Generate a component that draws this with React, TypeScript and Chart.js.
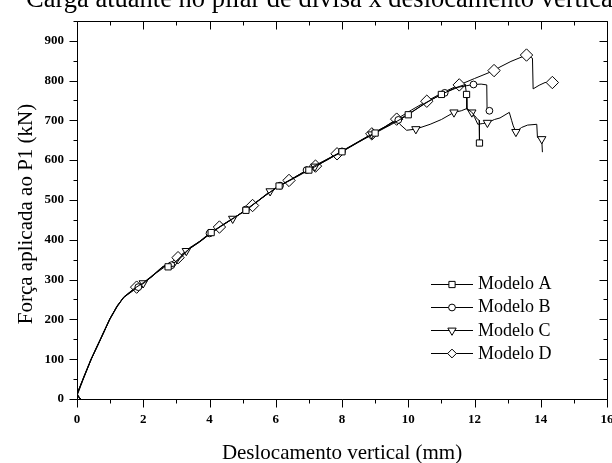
import React, { useEffect, useRef } from 'react';
import { Chart, registerables } from 'chart.js';

Chart.register(...registerables);

// ---------------- data ----------------
const chartTitle = 'Carga atuante no pilar de divisa x deslocamento vertical';
const xTitle = 'Deslocamento vertical (mm)';
const yTitle = 'Força aplicada ao P1 (kN)';
const seriesNames = ['Modelo A', 'Modelo B', 'Modelo C', 'Modelo D'];

const xMin = 0;
const xMax = 16;
const xStep = 1;
const xLabelEvery = 2;
const yMin = 0;
const yMax = 950;
const yStep = 50;
const yLabelEvery = 100;

// Modelo A (squares)
const modeloA: [number, number][] = [
  [0.12, 0], [0, 10], [0.2, 55], [0.42, 100], [0.7, 150], [0.98, 200], [1.2, 232], [1.4, 255],
  [1.7, 276], [2.0, 292], [2.3, 312], [2.55, 330], [2.7, 338], [2.75, 332], [2.95, 334], [3.1, 352],
  [3.4, 378], [3.7, 395], [4.05, 418], [4.4, 438], [4.75, 456], [5.1, 474], [5.5, 500], [5.85, 521],
  [6.1, 535], [6.5, 552], [7.0, 575], [7.5, 598], [8.0, 621], [8.5, 645], [9.0, 668], [9.5, 690],
  [10.0, 714], [10.5, 743], [11.0, 765], [11.4, 781], [11.72, 790], [11.76, 765], [11.77, 728],
  [11.9, 722], [12.0, 712], [12.1, 702], [12.14, 700], [12.15, 643],
];
const marcasA = [13, 18, 21, 24, 26, 28, 30, 32, 34, 37, 43];

// Modelo B (circles)
const modeloB: [number, number][] = [
  [0.1, 0], [0, 12], [0.22, 58], [0.43, 100], [0.72, 152], [1.0, 202], [1.22, 235], [1.42, 256],
  [1.85, 281], [2.1, 296], [2.4, 318], [2.6, 332], [2.85, 336], [3.05, 350], [3.35, 375], [3.7, 396],
  [4.0, 416], [4.4, 437], [4.75, 455], [5.1, 476], [5.5, 500], [5.8, 518], [6.13, 536], [6.5, 553],
  [6.93, 575], [7.4, 596], [8.0, 622], [8.5, 646], [9.0, 669], [9.7, 701], [10.2, 726], [10.7, 752],
  [11.1, 769], [11.5, 783], [11.97, 790], [12.2, 791], [12.37, 789], [12.38, 725], [12.45, 724],
  [12.55, 728],
];
const marcasB = [8, 12, 16, 19, 22, 24, 26, 29, 32, 34, 38];

// Modelo C (down triangles)
const modeloC: [number, number][] = [
  [0.1, 0], [0, 8], [0.2, 52], [0.42, 98], [0.7, 148], [0.98, 198], [1.2, 230], [1.4, 254],
  [1.7, 274], [2.0, 291], [2.3, 310], [2.6, 333], [2.8, 336], [3.0, 346], [3.3, 372], [3.7, 394],
  [4.0, 414], [4.35, 434], [4.7, 453], [5.1, 474], [5.45, 497], [5.83, 522], [6.2, 540], [6.6, 558],
  [7.18, 584], [7.6, 603], [8.0, 622], [8.4, 641], [8.9, 665], [9.3, 684], [9.65, 701], [9.75, 690],
  [9.95, 675], [10.23, 678], [10.66, 690], [11.0, 702], [11.38, 720], [11.6, 724], [11.78, 730],
  [11.85, 722], [11.92, 720], [12.0, 708], [12.1, 690], [12.25, 692], [12.39, 694], [12.6, 702],
  [12.77, 706], [13.05, 720], [13.12, 700], [13.17, 686], [13.25, 671], [13.42, 682], [13.6, 688],
  [13.88, 690], [13.9, 657], [14.03, 653], [14.05, 620],
];
const marcasC = [9, 14, 18, 21, 24, 28, 33, 36, 40, 44, 50, 55];

// Modelo D (diamonds)
const modeloD: [number, number][] = [
  [0.1, 0], [0, 14], [0.22, 57], [0.44, 102], [0.72, 151], [1.0, 203], [1.22, 234], [1.42, 257],
  [1.8, 281], [2.1, 297], [2.4, 317], [2.7, 335], [3.05, 355], [3.4, 380], [3.8, 401], [4.3, 432],
  [4.8, 458], [5.3, 486], [5.85, 522], [6.4, 549], [6.8, 568], [7.2, 585], [7.85, 616], [8.4, 642],
  [8.9, 666], [9.3, 684], [9.65, 703], [10.1, 726], [10.56, 748], [11.0, 768], [11.54, 789],
  [12.0, 805], [12.59, 825], [12.77, 834], [13.1, 848], [13.57, 864], [13.75, 856], [13.77, 779],
  [13.95, 788], [14.13, 795], [14.35, 795],
];
const marcasD = [8, 12, 15, 17, 19, 21, 22, 24, 26, 28, 30, 32, 35, 40];

// ---------------- styling ----------------
const FONT = "'Liberation Serif', 'Times New Roman', Times, serif";

const markerStyles = [
  { style: 'rect', radius: 4.4, rotation: 0 },
  { style: 'circle', radius: 3.4, rotation: 0 },
  { style: 'triangle', radius: 4.8, rotation: 180 },
  { style: 'rectRot', radius: 6.2, rotation: 0 },
];

const allSeries = [modeloA, modeloB, modeloC, modeloD];
const allMarks = [marcasA, marcasB, marcasC, marcasD];

function drawMarker(ctx: CanvasRenderingContext2D, style: string, x: number, y: number, r: number, rotDeg: number) {
  ctx.beginPath();
  if (style === 'circle') {
    ctx.arc(x, y, r, 0, Math.PI * 2);
  } else if (style === 'rect') {
    const s = r * Math.SQRT1_2;
    ctx.rect(x - s, y - s, 2 * s, 2 * s);
  } else if (style === 'rectRot') {
    const s = r * Math.SQRT1_2;
    ctx.moveTo(x - s, y);
    ctx.lineTo(x, y + s);
    ctx.lineTo(x + s, y);
    ctx.lineTo(x, y - s);
  } else if (style === 'triangle') {
    let rad = (rotDeg * Math.PI) / 180;
    ctx.moveTo(x + Math.sin(rad) * r, y - Math.cos(rad) * r);
    rad += (2 * Math.PI) / 3;
    ctx.lineTo(x + Math.sin(rad) * r, y - Math.cos(rad) * r);
    rad += (2 * Math.PI) / 3;
    ctx.lineTo(x + Math.sin(rad) * r, y - Math.cos(rad) * r);
  }
  ctx.closePath();
  ctx.fillStyle = '#fff';
  ctx.fill();
  ctx.strokeStyle = '#000';
  ctx.lineWidth = 1;
  ctx.stroke();
}

const decorPlugin = {
  id: 'decor',
  afterDraw(chart: any) {
    const { ctx, chartArea: a } = chart;
    const xs = chart.scales.x;
    const ys = chart.scales.y;
    ctx.save();
    ctx.strokeStyle = '#000';
    ctx.lineWidth = 1;
    const L = Math.round(a.left) + 0.5;
    const R = Math.round(a.right) + 0.5;
    const T = Math.round(a.top) + 0.5;
    const B = Math.round(a.bottom) + 0.5;
    ctx.beginPath();
    for (const t of xs.ticks) {
      const v = t.value;
      const px = Math.round(xs.getPixelForValue(v)) + 0.5;
      const len = v % xLabelEvery === 0 ? 8 : 4;
      ctx.moveTo(px, B);
      ctx.lineTo(px, B + len);
      ctx.moveTo(px, T);
      ctx.lineTo(px, T + len);
    }
    for (const t of ys.ticks) {
      const v = t.value;
      const py = Math.round(ys.getPixelForValue(v)) + 0.5;
      const len = v % yLabelEvery === 0 ? 8 : 4;
      ctx.moveTo(L, py);
      ctx.lineTo(L - len, py);
      ctx.moveTo(R, py);
      ctx.lineTo(R - len, py);
    }
    ctx.rect(L, T, R - L, B - T);
    ctx.stroke();

    // titles
    ctx.fillStyle = '#000';
    ctx.font = `26.5px ${FONT}`;
    ctx.textAlign = 'left';
    ctx.textBaseline = 'alphabetic';
    ctx.fillText(chartTitle, 26, 7);

    ctx.font = `21px ${FONT}`;
    ctx.textAlign = 'center';
    ctx.textBaseline = 'middle';
    ctx.fillText(xTitle, (a.left + a.right) / 2, 453);

    ctx.save();
    ctx.translate(26, 214);
    ctx.rotate(-Math.PI / 2);
    ctx.fillText(yTitle, 0, 0);
    ctx.restore();

    // legend
    const lx0 = 431, lx1 = 473, mx = 452, tx = 478;
    const rows = [283.5, 306.5, 330, 353];
    ctx.font = `18px ${FONT}`;
    ctx.textAlign = 'left';
    ctx.textBaseline = 'middle';
    seriesNames.forEach((name, i) => {
      const y = rows[i];
      ctx.beginPath();
      ctx.moveTo(lx0, Math.round(y) + 0.5);
      ctx.lineTo(lx1, Math.round(y) + 0.5);
      ctx.strokeStyle = '#000';
      ctx.lineWidth = 1;
      ctx.stroke();
      const m = markerStyles[i];
      drawMarker(ctx, m.style, mx, Math.round(y) + 0.5, m.radius, m.rotation);
      ctx.fillStyle = '#000';
      ctx.fillText(name, tx, y + 1);
    });
    ctx.restore();
  },
};

export default function App() {
  const ref = useRef<HTMLCanvasElement>(null);
  useEffect(() => {
    const canvas = ref.current;
    if (!canvas) return;
    const datasets = allSeries.map((s, i) => {
      const marks = allMarks[i];
      const m = markerStyles[i];
      return {
        label: seriesNames[i],
        data: s.map(([x, y]) => ({ x, y })),
        borderColor: '#000',
        borderWidth: 1,
        backgroundColor: '#fff',
        fill: false,
        tension: 0,
        pointStyle: m.style,
        pointRotation: m.rotation,
        pointRadius: (c: any) => (marks.includes(c.dataIndex) ? m.radius : 0),
        pointHoverRadius: 0,
        pointBackgroundColor: '#fff',
        pointBorderColor: '#000',
        pointBorderWidth: 1,
      };
    });
    const tickFont = { family: FONT, size: 13, weight: 'bold' as const };
    const chart = new Chart(canvas, {
      type: 'line',
      data: { datasets } as any,
      plugins: [decorPlugin as any],
      options: {
        animation: false,
        responsive: false,
        devicePixelRatio: 1,
        layout: { padding: { top: 8, right: 33, left: 0, bottom: 0 } },
        plugins: {
          legend: { display: false },
          title: { display: false },
          tooltip: { enabled: false },
        },
        scales: {
          x: {
            type: 'linear',
            min: xMin,
            max: xMax,
            grid: { display: false, drawTicks: false },
            border: { display: false },
            ticks: {
              stepSize: xStep,
              padding: 13,
              color: '#000',
              font: tickFont,
              maxRotation: 0,
              autoSkip: false,
              callback: (v: any) => (Number(v) % xLabelEvery === 0 ? String(v) : ''),
            },
            afterFit: (s: any) => {
              s.height = 64;
            },
          },
          y: {
            type: 'linear',
            min: yMin,
            max: yMax,
            grid: { display: false, drawTicks: false },
            border: { display: false },
            ticks: {
              stepSize: yStep,
              padding: 13,
              color: '#000',
              font: tickFont,
              autoSkip: false,
              callback: (v: any) => (Number(v) % yLabelEvery === 0 ? String(v) : ''),
            },
            afterFit: (s: any) => {
              s.width = 77;
            },
          },
        },
      } as any,
    });
    return () => chart.destroy();
  }, []);
  return (
    <div
      style={{
        position: 'fixed',
        left: 0,
        top: 0,
        width: 612,
        height: 463,
        overflow: 'hidden',
        background: '#fff',
      }}
    >
      <canvas ref={ref} width={640} height={463} style={{ display: 'block', width: 640, height: 463 }} />
    </div>
  );
}
